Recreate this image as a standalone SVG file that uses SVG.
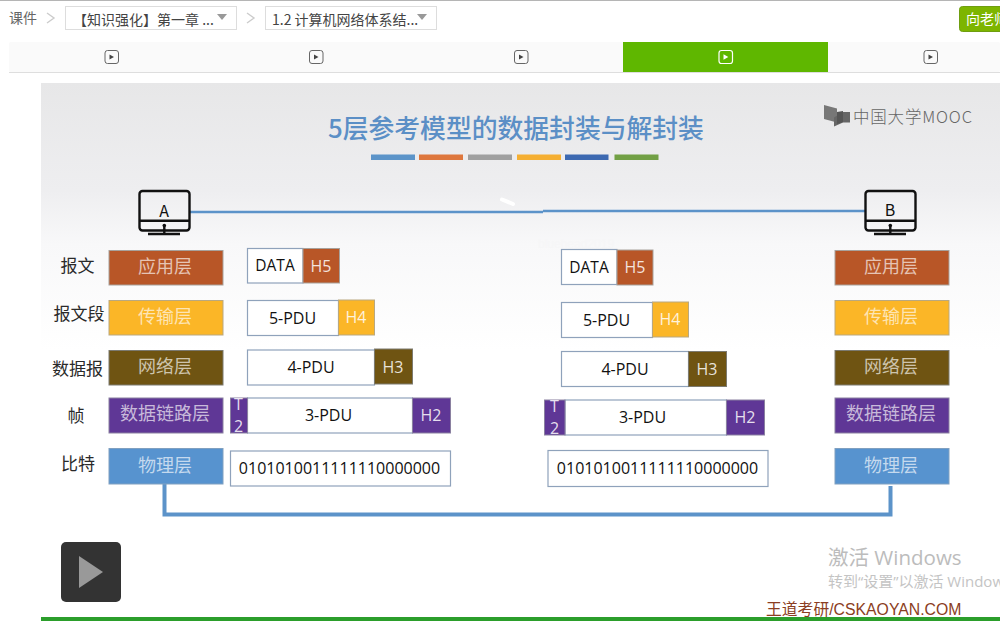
<svg xmlns="http://www.w3.org/2000/svg" width="1000" height="622" viewBox="0 0 1000 622">
<style>
text{font-family:"Liberation Sans","Noto Sans CJK SC",sans-serif}
.cjk{font-family:"Noto Sans CJK SC",sans-serif}
.os{font-family:"Open Sans","Noto Sans CJK SC",sans-serif}
.c{font-family:"Open Sans","Noto Sans CJK SC",sans-serif;text-anchor:middle}
.lay{font-family:"Noto Sans CJK SC",sans-serif;font-size:18px;fill:#fff;fill-opacity:.66;text-anchor:middle}
.side{font-family:"Noto Sans CJK SC",sans-serif;font-size:17px;fill:#2a2a2a;text-anchor:middle}
.box{fill:#fff;stroke:#8fa2bb;stroke-width:1.2}
.t{font-size:16px;fill:#111}
.h{font-size:16px;fill:#fff;fill-opacity:.85}
.app{fill:#b85627;stroke:#a8a19b}
.tra{fill:#fbb627;stroke:#b9a880}
.net{fill:#6f5412;stroke:#7c7a70}
.dl{fill:#5f3796;stroke:#8a80a0}
.ph{fill:#5793cf;stroke:#80a0c0}
.mon{fill:none;stroke:#111;stroke-width:2.4}
.tab{fill:none;stroke:#666;stroke-width:1}
.tri{fill:#444}
.link{fill:none;stroke:#5c93c9}
.dd{fill:#fff;stroke:#ddd;stroke-width:1}
.chev{fill:none;stroke:#ccc;stroke-width:1.4}
.ar{fill:#999}
</style>
<defs>
<linearGradient id="bg" x1="0" y1="0" x2="0" y2="1"><stop offset="0" stop-color="#e7e7e8"/><stop offset=".2" stop-color="#eeeef0"/><stop offset=".3" stop-color="#f8f8f9"/><stop offset=".5" stop-color="#fff"/></linearGradient>
<filter id="sh" x="-10%" y="-60%" width="120%" height="220%"><feGaussianBlur stdDeviation=".5"/></filter>
</defs>
<rect width="1000" height="622" fill="#fff"/>
<rect width="1000" height="1" fill="#b5b5b5"/>

<g id="breadcrumb">
<text x="9" y="23" class="cjk" font-size="14" fill="#666">课件</text>
<path class="chev" d="M47 13l7 5-7 5"/>
<rect class="dd" x="65.5" y="6.5" width="171" height="23"/>
<text x="73" y="25" class="cjk" font-size="14" fill="#444">【知识强化】第一章 ...</text>
<path class="ar" d="M217 14h10l-5 6z"/>
<path class="chev" d="M247 13l7 5-7 5"/>
<rect class="dd" x="265.5" y="6.5" width="171" height="23"/>
<text x="272" y="25" class="cjk" font-size="14" fill="#444">1.2 计算机网络体系结...</text>
<path class="ar" d="M417 14h10l-5 6z"/>
<rect x="959.5" y="6.5" width="50" height="25" rx="3" fill="#7db500" stroke="#6f9e10"/>
<text x="966" y="24" class="cjk" font-size="14" fill="#fff">向老师</text>
</g>

<g id="tabs">
<rect x="9" y="42" width="991" height="30" rx="2" fill="#fafafa"/>
<rect x="9" y="72" width="991" height="1" fill="#dedede"/>
<rect x="623" y="42" width="205" height="30" fill="#5fb700"/>
<g id="tab1"><rect class="tab" x="105" y="50.500" width="13.500" height="13" rx="2.500"/><path class="tri" d="M109.500 54.500l4.500 2.500-4.500 2.500z"/></g>
<g id="tab2"><rect class="tab" x="309.500" y="50.500" width="13.500" height="13" rx="2.500"/><path class="tri" d="M314 54.500l4.500 2.500-4.500 2.500z"/></g>
<g id="tab3"><rect class="tab" x="514.500" y="50.500" width="13.500" height="13" rx="2.500"/><path class="tri" d="M519 54.500l4.500 2.500-4.500 2.500z"/></g>
<g id="tab4"><rect x="719" y="50.500" width="13.500" height="13" rx="2.500" fill="none" stroke="#fff" stroke-width="1.200"/><path fill="#fff" d="M723.500 54.300l4.800 2.700-4.800 2.700z"/></g>
<g id="tab5"><rect class="tab" x="924" y="50.500" width="13.500" height="13" rx="2.500"/><path class="tri" d="M928.500 54.500l4.500 2.500-4.500 2.500z"/></g>
</g>

<rect id="slide" x="41" y="83" width="959" height="535" fill="url(#bg)"/>
<rect x="41" y="617" width="959" height="4" fill="#2b9e2b"/>

<g id="title">
<text x="328" y="138" class="cjk" font-size="25.800" font-weight="500" fill="#5b8fc6">5层参考模型的数据封装与解封装</text>
<g filter="url(#sh)">
<rect x="371" y="154.500" width="44" height="5.500" fill="#5b94c9"/>
<rect x="419" y="154.500" width="44" height="5.500" fill="#de773c"/>
<rect x="468" y="154.500" width="44" height="5.500" fill="#a0a0a0"/>
<rect x="517" y="154.500" width="44" height="5.500" fill="#f5af30"/>
<rect x="565" y="154.500" width="43.500" height="5.500" fill="#3e69b1"/>
<rect x="614.500" y="154.500" width="44" height="5.500" fill="#72a044"/>
</g>
</g>

<g id="mooc-logo">
<path fill="#777" d="M824 105l13 3.500 0 14-13-3.500z"/>
<path fill="#666" d="M834 126.500v-9l9-5.500h7v10.500h-7z"/>
<path fill="#555" d="M837 112l6-1v11l-6 2z"/>
<text x="853" y="122.500" class="cjk" font-size="16.500" font-weight="300" fill="#666" textLength="119">中国大学MOOC</text>
</g>

<g id="connectors">
<path class="link" stroke-width="2.400" d="M190 212H543"/>
<path class="link" stroke-width="2.400" d="M543 211H865"/>
<path class="link" stroke-width="4" d="M164.500 484V514.500H890.500V486"/>
</g>
<path d="M502 199.500l11 4.500" stroke="#fff" stroke-width="4" stroke-linecap="round"/>
<text x="538" y="248" font-size="12" fill="#f6f6f7">bluehead2019</text>

<g id="host-a">
<rect class="mon" x="139.500" y="191" width="50" height="39.500" rx="3"/>
<path class="mon" d="M139.500 220.700h50M164.300 226v7M148 234h32"/>
<circle cx="164.300" cy="225.500" r="1.800" fill="#111"/>
<text x="164" y="217" font-size="16" fill="#111" text-anchor="middle" class="cjk">A</text>
</g>
<g id="host-b">
<rect class="mon" x="865.500" y="191" width="50" height="39.500" rx="3"/>
<path class="mon" d="M865.500 220.700h50M890.300 226v7M874 234h32"/>
<circle cx="890.300" cy="225.500" r="1.800" fill="#111"/>
<text x="890" y="215.500" font-size="16" fill="#111" text-anchor="middle" class="cjk">B</text>
</g>

<g id="side-labels">
<text class="side" x="77.500" y="272">报文</text>
<text class="side" x="79" y="320">报文段</text>
<text class="side" x="77.500" y="375">数据报</text>
<text class="side" x="76" y="422">帧</text>
<text class="side" x="78" y="470">比特</text>
</g>

<g id="layers-a">
<g id="a-app"><rect class="app" x="109" y="250.500" width="114" height="34.500"/><text class="lay" x="165" y="273">应用层</text></g>
<g id="a-tra"><rect class="tra" x="109" y="300.500" width="114" height="34.500"/><text class="lay" x="165" y="323">传输层</text></g>
<g id="a-net"><rect class="net" x="109" y="350.500" width="114" height="34.500"/><text class="lay" x="165" y="373">网络层</text></g>
<g id="a-dl"><rect class="dl" x="109" y="398" width="114" height="35"/><text class="lay" x="165" y="420">数据链路层</text></g>
<g id="a-ph"><rect class="ph" x="109" y="448.500" width="114" height="35.500"/><text class="lay" x="165" y="472">物理层</text></g>
</g>
<g id="layers-b">
<g id="b-app"><rect class="app" x="835" y="250.500" width="114" height="34.500"/><text class="lay" x="891" y="273">应用层</text></g>
<g id="b-tra"><rect class="tra" x="835" y="300.500" width="114" height="34.500"/><text class="lay" x="891" y="323">传输层</text></g>
<g id="b-net"><rect class="net" x="835" y="350.500" width="114" height="34.500"/><text class="lay" x="891" y="373">网络层</text></g>
<g id="b-dl"><rect class="dl" x="835" y="398" width="114" height="35"/><text class="lay" x="891" y="420">数据链路层</text></g>
<g id="b-ph"><rect class="ph" x="835" y="448.500" width="114" height="35.500"/><text class="lay" x="891" y="472">物理层</text></g>
</g>

<g id="pdu-a">
<g id="a-h5"><rect class="box" x="247.500" y="248.500" width="55.500" height="34.500"/><text class="c t" x="275" y="271" style="font-size:15.500px">DATA</text><rect class="app" x="303" y="248.500" width="36.500" height="34.500"/><text class="c h" x="321" y="272">H5</text></g>
<g id="a-h4"><rect class="box" x="247.500" y="300.500" width="91" height="35"/><text class="c t" x="292.500" y="324">5-PDU</text><rect class="tra" x="338.500" y="300" width="36" height="35"/><text class="c h" x="356" y="323">H4</text></g>
<g id="a-h3"><rect class="box" x="247.500" y="350" width="127" height="35"/><text class="c t" x="311" y="373">4-PDU</text><rect class="net" x="374.500" y="349" width="38" height="35"/><text class="c h" x="393" y="373">H3</text></g>
<g id="a-h2"><rect class="box" x="247.500" y="398" width="165" height="35"/><text class="c t" x="328.500" y="421">3-PDU</text><rect class="dl" x="230.500" y="398" width="17" height="35"/><text class="c h" x="238.500" y="410">T</text><text class="c h" x="238.500" y="432">2</text><rect class="dl" x="412.500" y="398" width="38" height="35"/><text class="c h" x="431" y="421">H2</text></g>
<g id="a-bits"><rect class="box" x="230.500" y="451" width="220" height="35"/><text class="c t" x="339.500" y="474">0101010011111110000000</text></g>
</g>
<g id="pdu-b">
<g id="c-h5"><rect class="box" x="561.500" y="249.500" width="55.500" height="35"/><text class="c t" x="589" y="273" style="font-size:15.500px">DATA</text><rect class="app" x="617" y="250" width="36" height="35"/><text class="c h" x="635" y="273">H5</text></g>
<g id="c-h4"><rect class="box" x="561.500" y="302.500" width="91" height="35"/><text class="c t" x="606.500" y="326">5-PDU</text><rect class="tra" x="652.500" y="302" width="36" height="35"/><text class="c h" x="670" y="325">H4</text></g>
<g id="c-h3"><rect class="box" x="561.500" y="351.500" width="127" height="35"/><text class="c t" x="625" y="375">4-PDU</text><rect class="net" x="688.500" y="351.500" width="38" height="35"/><text class="c h" x="707" y="375">H3</text></g>
<g id="c-h2"><rect class="box" x="565" y="400" width="161.500" height="35"/><text class="c t" x="642.500" y="423">3-PDU</text><rect class="dl" x="544.500" y="400" width="20.500" height="35"/><text class="c h" x="554.500" y="412">T</text><text class="c h" x="554.500" y="434">2</text><rect class="dl" x="726.500" y="400" width="38" height="35"/><text class="c h" x="745" y="423">H2</text></g>
<g id="c-bits"><rect class="box" x="548" y="450.500" width="220" height="36"/><text class="c t" x="657.500" y="474">0101010011111110000000</text></g>
</g>

<g id="play">
<rect x="61" y="542" width="60" height="60" rx="5" fill="#333"/>
<path d="M79 556l24 16-24 16z" fill="#999"/>
</g>

<g id="overlay">
<text x="828" y="565" class="os" font-size="20.500" fill="#bcbcbc">激活 Windows</text>
<text x="828" y="587" class="os" font-size="15" fill="#c4c4c4">转到“设置”以激活 Windows。</text>
<text x="766" y="615" font-size="15.800" fill="#8b3d22">王道考研/CSKAOYAN.COM</text>
</g>
</svg>
